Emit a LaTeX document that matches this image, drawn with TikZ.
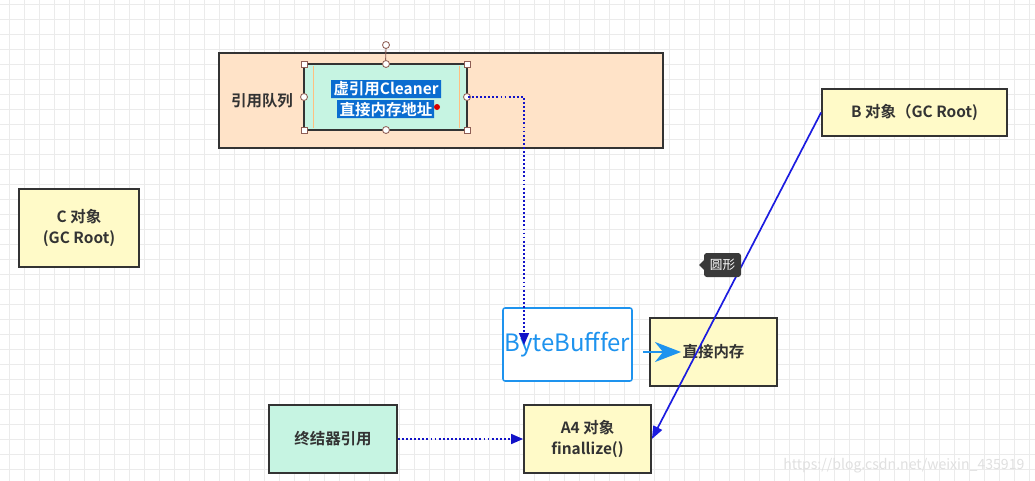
\documentclass[tikz,border=0pt]{standalone}
\usepackage{fontspec}
\setmainfont{Noto Sans CJK SC}[BoldFont={Noto Sans CJK SC Bold}]
\usetikzlibrary{arrows.meta}
\definecolor{edge}{HTML}{333333}
\definecolor{peach}{HTML}{FFE3C8}
\definecolor{mint}{HTML}{C6F4E2}
\definecolor{cream}{HTML}{FFFAC8}
\definecolor{gridc}{HTML}{EBEBEB}
\definecolor{refblue}{HTML}{1212C8}
\definecolor{lineblue}{HTML}{1C1CE0}
\definecolor{skyblue}{HTML}{1E93EE}
\definecolor{selblue}{HTML}{0A6CD0}
\definecolor{handle}{HTML}{8E5E55}
\definecolor{tipbg}{HTML}{3A3A3A}
\definecolor{mark}{HTML}{E0E0E0}
\def\px{0.025cm}
\tikzset{
  box/.style={draw=edge, line width=1.3pt, inner sep=0pt, align=center,
    font=\fontsize{11}{15}\selectfont\bfseries, text=edge},
  lab/.style={align=center, font=\fontsize{11}{15}\selectfont\bfseries, text=edge},
  gridline/.style={draw=gridc, line width=0.5pt},
  refarrow/.style={draw=refblue, line width=1.2pt, dash pattern=on 1.3pt off 1.6pt,
    -{Triangle[length=0.3cm,width=0.25cm,fill=refblue,sharp]}},
  sq/.style={draw=handle, fill=white, line width=0.6pt, minimum size=6*\px, inner sep=0pt},
  rnd/.style={circle, draw=handle, fill=white, line width=0.6pt, minimum size=7*\px, inner sep=0pt},
}
\begin{document}
\begin{tikzpicture}[x=\px,y=-\px]
  \clip (0,0) rectangle (1035,481);
  \fill[white] (0,0) rectangle (1035,481);
  \foreach \gx in {9,24,...,1035} \draw[gridline] (\gx,0) -- (\gx,481);
  \foreach \gy in {4,19,...,481} \draw[gridline] (0,\gy) -- (1035,\gy);

  % reference queue
  \node[box, fill=peach, minimum width=444*\px, minimum height=95*\px] (queue) at (441,100.5) {};
  \node[lab] (qlabel) at (262,101) {引用队列};
  \node[box, fill=mint, minimum width=163*\px, minimum height=66*\px] (cleaner) at (385.5,97) {};
  \draw[draw=orange!50, line width=0.6pt] (313,66) -- (313,128) (459,66) -- (459,128);
  \fill[selblue] (331,80) rectangle (441,98) (337,100) rectangle (434,118);
  \node[lab, text=white] (cltext) at (386,99) {虚引用Cleaner\\直接内存地址};
  \fill[red!85!black] (437,107) circle (3);
  % selection handles
  \draw[handle, line width=0.6pt] (cleaner.north) -- (386,48);
  \node[rnd] (rot) at (386,45) {};
  \foreach \hx/\hy in {304/64, 467/64, 304/130, 467/130} \node[sq] at (\hx,\hy) {};
  \foreach \hx/\hy in {304/97, 467/97, 386/64, 386/130} \node[rnd] at (\hx,\hy) {};

  % objects
  \node[draw=skyblue, line width=1.1pt, rounded corners=1.5pt, fill=white, inner sep=0pt,
    minimum width=129*\px, minimum height=73*\px, text=skyblue,
    font=\fontsize{17}{20}\selectfont] (bytebuf) at (567.5,344.5) {ByteBufffer};
  \node[box, fill=cream, minimum width=127*\px, minimum height=68*\px] (direct) at (713.5,352) {直接内存};
  \node[box, fill=cream, minimum width=127*\px, minimum height=68*\px] (a4) at (587.5,439) {A4 对象\\finallize()};
  \node[box, fill=mint, minimum width=128*\px, minimum height=68*\px] (finref) at (333,439) {终结器引用};
  \node[box, fill=cream, minimum width=185*\px, minimum height=47*\px] (broot) at (914.5,112.5) {B 对象（GC Root)};
  \node[box, fill=cream, minimum width=120*\px, minimum height=78*\px] (croot) at (79,228) {C 对象\\(GC Root)};

  % connectors
  \coordinate (bbin) at (524,345);
  \coordinate (bbout) at (643,352);
  \coordinate (dmin) at (681,352);
  \draw[refarrow] (cleaner.east) -| (bbin);
  \draw[refarrow] (finref.east) -- (a4.west);
  \draw[draw=skyblue, line width=1.6pt,
    -{Stealth[length=0.65cm,width=0.5cm,inset=0.2cm,fill=skyblue]}] (bbout) -- (dmin);
  \draw[draw=lineblue, line width=1.2pt,
    -{Triangle[length=0.32cm,width=0.24cm,fill=lineblue,sharp]}] (broot.west) -- (a4.east);

  % tooltip
  \fill[tipbg, rounded corners=2pt] (704,253) rectangle (741,277);
  \fill[tipbg] (704,260) -- (699,265) -- (704,270) -- cycle;
  \node[text=white, font=\fontsize{9}{11}\selectfont] (tip) at (722.5,265) {圆形};

  % watermark
  \node[anchor=west, text=mark, font=\fontsize{10}{12}\selectfont, inner sep=0pt] (wm) at (783,466)
    {https://blog.csdn.net/weixin\_435919};
\end{tikzpicture}
\end{document}
